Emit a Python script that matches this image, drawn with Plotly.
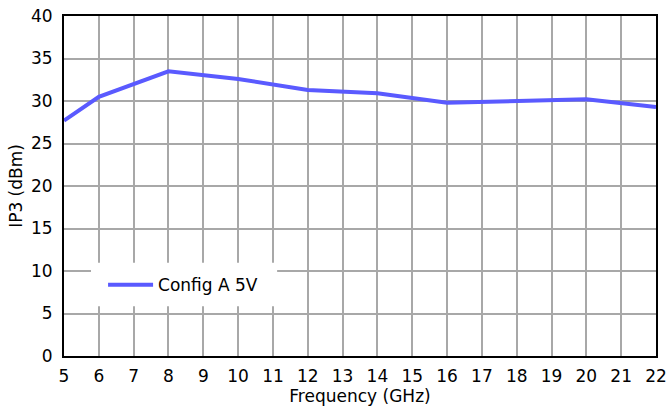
import plotly.graph_objects as go

freq_ghz = [5, 6, 8, 10, 12, 14, 16, 18, 20, 22]
ip3_dbm = [27.7, 30.5, 33.5, 32.6, 31.3, 30.9, 29.8, 30.0, 30.2, 29.3]
series_name = "Config A 5V"

FONT = "DejaVu Sans, Verdana, sans-serif"

fig = go.Figure()
fig.add_trace(go.Scatter(
    x=freq_ghz, y=ip3_dbm, mode="lines", name=series_name,
    line=dict(color="#5a5aff", width=4),
))

axis_common = dict(
    showgrid=True, gridcolor="#a8a8a8", gridwidth=2,
    showline=True, linecolor="black", linewidth=2, mirror=True,
    ticks="", zeroline=False, automargin=False,
    tickfont=dict(family=FONT, size=17, color="black"),
)

# white panel behind the legend (legend box styling)
fig.add_shape(
    type="rect", xref="paper", yref="paper",
    x0=0.0456, x1=0.36, y0=0.146, y1=0.274,
    fillcolor="white", line=dict(width=0), layer="above",
)

fig.update_layout(
    width=669, height=412,
    margin=dict(l=64, r=13, t=16, b=56, autoexpand=False),
    paper_bgcolor="white", plot_bgcolor="white",
    font=dict(family=FONT, size=17, color="black"),
    showlegend=True,
    legend=dict(
        x=0.066, y=0.208, xanchor="left", yanchor="middle",
        bgcolor="rgba(0,0,0,0)", borderwidth=0,
        font=dict(family=FONT, size=17, color="black"),
        itemwidth=45,
    ),
    xaxis=dict(
        range=[5, 22], dtick=1, tick0=5,
        ticklabelstandoff=4,
        title=dict(text="Frequency (GHz)", standoff=5,
                   font=dict(family=FONT, size=17)),
        **axis_common,
    ),
    yaxis=dict(
        range=[0, 40], dtick=5, tick0=0,
        ticklabelstandoff=6,
        title=dict(text="IP3 (dBm)", standoff=4,
                   font=dict(family=FONT, size=17)),
        **axis_common,
    ),
)

fig.write_html(
    "out.html",
    config={"displayModeBar": False},
    post_script="document.body.style.margin='0px';document.body.style.overflow='hidden';",
)
